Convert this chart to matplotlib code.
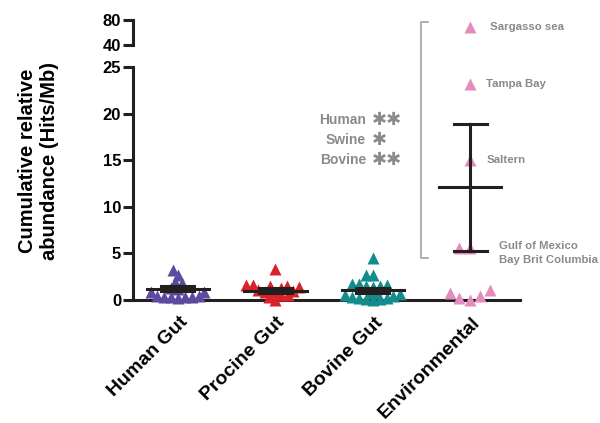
import matplotlib
matplotlib.use("Agg")
import matplotlib.pyplot as plt
from matplotlib.transforms import ScaledTranslation
import numpy as np

# data (Hits/Mb)
groups = ["Human Gut", "Procine Gut", "Bovine Gut", "Environmental"]
human = [3.2, 2.7, 1.9, 1.8, 1.3, 1.2, 0.85, 0.85, 0.4, 0.4, 0.35, 0.35, 0.3, 0.3, 0.25]
procine = [3.3, 1.6, 1.5, 1.4, 1.5, 1.6, 1.3, 1.1, 1.0, 0.9, 0.9, 0.5, 0.5, 0.3, 0.0]
bovine = [4.5, 2.7, 2.7, 1.7, 1.6, 1.5, 1.7, 1.5, 1.4, 0.8, 0.7, 0.6, 0.5, 0.4,
          0.3, 0.2, 0.2, 0.1, 0.1, 0.0]
environmental = [29.3, 23.2, 15.0, 5.6, 5.6, 1.1, 0.45, 0.0, 0.2, 0.8]
env_names = ["Sargasso sea", "Tampa Bay", "Saltern", "Gulf of Mexico",
             "Bay Brit Columbia", "", "", "", "", ""]
means = [1.2, 1.0, 1.05, 12.1]
sds = [0.25, 0.3, 0.25, 6.8]
colors = ["#5a4ba0", "#da2328", "#148c8c", "#e58cbe"]
stat_groups = ["Human", "Swine", "Bovine"]
stat_stars = ["\u2731\u2731", "\u2731", "\u2731\u2731"]

plt.rcParams['font.family'] = ['Liberation Sans', 'DejaVu Sans']
plt.rcParams['font.weight'] = 'bold'
dark = "#231f20"
grey = "#8a8a8a"

fig = plt.figure(figsize=(6, 4.23), dpi=100)
ax = fig.add_axes([0.2217, 0.2908, 0.645, 0.5508])
top = fig.add_axes([0.2217, 0.8936, 0.645, 0.0591])

xlim = (-0.46, 3.51)
ax.set_xlim(*xlim)
ax.set_ylim(0, 25)
sx = 0.645 * 600 / (xlim[1] - xlim[0])
sy = 0.5508 * 423 / 25


def swarm(vals, d):
    # simple beeswarm in pixel space, d = min distance between marker centres
    vals = np.asarray(vals, float)
    xs = np.zeros(len(vals))
    placed = []
    for i in np.argsort(vals, kind="stable"):
        y = vals[i] * sy
        near = []
        cands = [0.0]
        for px, py in placed:
            dy = abs(py - y)
            if dy < d:
                w = np.sqrt(d * d - dy * dy)
                near.append((px, w))
                cands += [px - w, px + w]
        cands.sort(key=abs)
        for c in cands:
            if all(abs(c - px) >= w - 1e-6 for px, w in near):
                xs[i] = c
                break
        placed.append((xs[i], y))
    return xs / sx


spread = [7, 7, 7, 11]
for k, vals in enumerate([human, procine, bovine, environmental]):
    dx = swarm(vals, spread[k])
    ax.plot(k + dx, vals, ls="none", marker="^", ms=9, color=colors[k],
            mec="none", clip_on=False, zorder=3)
    m, s = means[k], sds[k]
    ax.plot([k - 0.32, k + 0.32], [m, m], color=dark, lw=2.2, zorder=4,
            clip_on=False)
    ax.plot([k, k], [m - s, m + s], color=dark, lw=2.2, zorder=4, clip_on=False)
    for e in (m - s, m + s):
        ax.plot([k - 0.17, k + 0.17], [e, e], color=dark, lw=2.2, zorder=4,
                clip_on=False)

# labels for the environmental samples
offsets = {"Sargasso sea": (14.5, 0), "Tampa Bay": (11.5, 0), "Saltern": (11.5, 0),
           "Gulf of Mexico": (21, 1), "Bay Brit Columbia": (21, -8.5)}
for name, v in zip(env_names, environmental):
    if name:
        ax.annotate(name, xy=(3, v), xytext=offsets[name], textcoords="offset points",
                    ha="left", va="center", fontsize=8.2, color=grey,
                    fontweight="bold", annotation_clip=False)

# bracket around the environmental outliers
ax.plot([2.568, 2.496, 2.496, 2.568], [29.8, 29.8, 4.54, 4.54], color="#a0a0a0",
        lw=1.2, clip_on=False)

# significance text
for i, (g, st) in enumerate(zip(stat_groups, stat_stars)):
    y = 19.3 - 2.15 * i
    ax.text(1.93, y, g, ha="right", va="center", fontsize=10, color=grey,
            fontweight="bold")
    ax.text(1.99, y, st, ha="left", va="center", fontsize=13, color=grey,
            family=['DejaVu Sans'])

for a in (ax, top):
    for side in ("top", "right"):
        a.spines[side].set_visible(False)
    a.spines["left"].set_linewidth(2.2)
    a.spines["left"].set_color(dark)
    a.tick_params(axis="y", length=7, width=2.2, pad=1.5, labelsize=12,
                  color=dark)
ax.spines["bottom"].set_linewidth(2.2)
ax.spines["bottom"].set_color(dark)
ax.set_yticks([0, 5, 10, 15, 20, 25])
ax.set_xticks(range(len(groups)))
ax.set_xticklabels(groups, rotation=45, ha="right", va="top",
                   rotation_mode="anchor", fontsize=14, fontweight="bold")
ax.tick_params(axis="x", length=0, pad=10)
shift = ScaledTranslation(0.01, 0, fig.dpi_scale_trans)
for lab in ax.get_xticklabels():
    lab.set_transform(lab.get_transform() + shift)

top.set_ylim(40, 80)
top.set_yticks([40, 80])
top.set_xticks([])
top.spines["bottom"].set_visible(False)
top.patch.set_visible(False)

fig.text(0.065, 0.619, "Cumulative relative\nabundance (Hits/Mb)", rotation=90,
         ha="center", va="center", multialignment="center", fontsize=14.5,
         fontweight="bold")

fig.savefig("out.png", dpi=100)
